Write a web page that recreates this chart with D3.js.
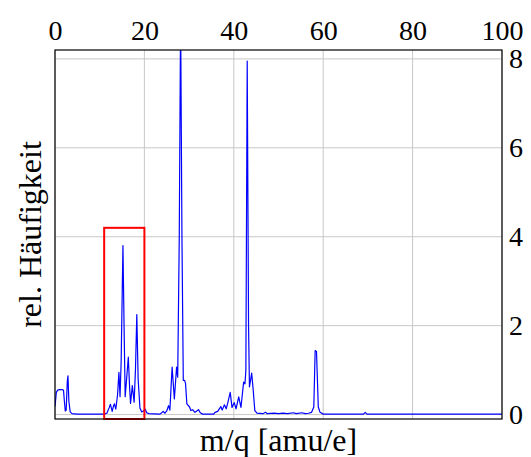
<!DOCTYPE html>
<html>
<head>
<meta charset="utf-8">
<script src="https://cdn.jsdelivr.net/npm/d3@7"></script>
<style>
  body { margin: 0; background: #fff; }
  text { font-family: "Liberation Serif", "Times New Roman", serif; }
</style>
</head>
<body>
<svg id="chart"></svg>
<script>
// mass-to-charge positions and relative abundance
var mass = [0, 0.3, 0.6, 1.0, 1.5, 1.9, 2.1, 2.3, 2.5, 2.75, 2.9, 3.1, 3.4, 3.8, 5, 8, 11,
  11.6, 12.1, 12.4, 12.8, 13.1, 13.3, 13.6, 14.0, 14.3, 14.55, 14.8, 15.2, 15.45, 15.7,
  16.1, 16.4, 16.7, 16.9, 17.3, 17.7, 18.0, 18.3, 18.6, 19.0, 19.4, 19.8, 20.2, 20.5, 21,
  23.5, 24.2, 24.6, 25.0, 25.4, 25.7, 26.2, 26.7, 27.2, 27.45, 27.8, 28.1, 28.4, 28.7,
  29.0, 29.2, 29.5, 30.1, 30.4, 30.8, 31.3, 32.1, 32.5, 33, 35.5, 35.8, 36.4, 37.1, 37.4,
  37.9, 38.3, 38.6, 39.2, 39.6, 40.1, 40.5, 41.1, 41.6, 42.2, 42.5, 42.7, 43.0, 43.3,
  43.5, 44.0, 44.3, 44.7, 45.2, 46.5, 47.1, 47.5, 49, 50, 51, 52, 53.3, 54, 55.2, 56,
  56.7, 57.4, 57.9, 58.2, 58.5, 58.9, 59.3, 60, 69, 69.4, 69.8, 100]
var abundance = [0.18, 0.5, 0.55, 0.56, 0.56, 0.55, 0.3, 0.08, 0.1, 0.75, 0.87, 0.3, 0.06, 0.02, 0.01, 0.01, 0.01,
  0.03, 0.15, 0.23, 0.07, 0.2, 0.24, 0.12, 0.45, 0.95, 0.4, 1.2, 3.8, 2.0, 0.4,
  0.9, 1.29, 0.6, 0.25, 0.65, 0.28, 1.0, 2.25, 0.8, 0.15, 0.06, 0.08, 0.12, 0.04, 0.02,
  0.01, 0.07, 0.03, 0.08, 0.2, 0.1, 1.07, 0.35, 1.07, 0.84, 4.0, 9.0, 4.0, 0.77,
  0.77, 0.7, 0.24, 0.17, 0.09, 0.11, 0.05, 0.11, 0.04, 0.01, 0.01, 0.05, 0.07, 0.18, 0.1,
  0.22, 0.13, 0.24, 0.5, 0.16, 0.27, 0.13, 0.4, 0.16, 0.73, 0.69, 1.0, 7.95, 2.0,
  0.62, 0.93, 0.6, 0.09, 0.03, 0.02, 0.05, 0.02, 0.03, 0.02, 0.03, 0.02, 0.04, 0.02, 0.04, 0.02,
  0.03, 0.05, 0.17, 1.44, 1.42, 0.17, 0.05, 0.01, 0.01, 0.05, 0.01, 0.01]

var xTicks = [0, 20, 40, 60, 80, 100]
var yTicks = [0, 2, 4, 6, 8]
// highlighted region (m/q range and height)
var boxX = [11, 20]
var boxY = [-0.1, 4.2]

var serif = '"Liberation Serif", "Times New Roman", serif'

var width = 531,
  height = 457
var margin = { top: 50, right: 29, bottom: 38, left: 55 }
var w = width - margin.left - margin.right,
  h = height - margin.top - margin.bottom

var svg = d3.select("#chart")
  .attr("width", width)
  .attr("height", height)

var x = d3.scaleLinear().domain([0, 100]).range([0, w])
var y = d3.scaleLinear().domain([-0.1, 8.2]).range([h, 0])

var g = svg.append("g")
  .attr("transform", "translate(" + margin.left + "," + margin.top + ")")

// grid
g.append("g")
  .selectAll("line.vgrid")
  .data(xTicks)
  .enter()
  .append("line")
  .attr("x1", function (d) { return x(d) })
  .attr("x2", function (d) { return x(d) })
  .attr("y1", 0)
  .attr("y2", h)
  .style("stroke", "#c8c8c8")
  .style("stroke-width", 1)

g.append("g")
  .selectAll("line.hgrid")
  .data(yTicks)
  .enter()
  .append("line")
  .attr("x1", 0)
  .attr("x2", w)
  .attr("y1", function (d) { return y(d) })
  .attr("y2", function (d) { return y(d) })
  .style("stroke", "#c8c8c8")
  .style("stroke-width", 1)

// clip
g.append("clipPath").attr("id", "clip")
  .append("rect").attr("width", w).attr("height", h)

var points = mass.map(function (m, i) { return [m, abundance[i]] })

var line = d3.line()
  .x(function (d) { return x(d[0]) })
  .y(function (d) { return y(d[1]) })

g.append("path")
  .datum(points)
  .attr("clip-path", "url(#clip)")
  .attr("d", line)
  .style("fill", "none")
  .style("stroke", "#0000ff")
  .style("stroke-width", 1.2)
  .style("stroke-linejoin", "round")

// red box
g.append("rect")
  .attr("x", x(boxX[0]))
  .attr("y", y(boxY[1]))
  .attr("width", x(boxX[1]) - x(boxX[0]))
  .attr("height", y(boxY[0]) - y(boxY[1]))
  .style("fill", "none")
  .style("stroke", "#ff0000")
  .style("stroke-width", 2)

// frame
g.append("rect")
  .attr("width", w)
  .attr("height", h)
  .style("fill", "none")
  .style("stroke", "#000")
  .style("stroke-width", 1.2)

// axes
var xAxis = g.append("g")
  .call(d3.axisTop(x).tickValues(xTicks).tickSize(0).tickPadding(10))
  .attr("font-family", serif)
xAxis.select(".domain").remove()
xAxis.selectAll("text")
  .style("font-family", serif)
  .style("font-size", "28px")
  .attr("fill", "#000")

var yAxis = g.append("g")
  .attr("transform", "translate(" + w + ",0)")
  .call(d3.axisRight(y).tickValues(yTicks).tickSize(0).tickPadding(7))
  .attr("font-family", serif)
yAxis.select(".domain").remove()
yAxis.selectAll("text")
  .style("font-family", serif)
  .style("font-size", "28px")
  .attr("fill", "#000")

// labels
svg.append("text")
  .attr("x", margin.left + w / 2)
  .attr("y", 451)
  .attr("text-anchor", "middle")
  .style("font-family", serif)
  .style("font-size", "32px")
  .text("m/q [amu/e]")

svg.append("text")
  .attr("transform", "translate(41," + (margin.top + h / 2) + ") rotate(-90)")
  .attr("text-anchor", "middle")
  .style("font-family", serif)
  .style("font-size", "32px")
  .text("rel. Häufigkeit")
</script>
</body>
</html>
